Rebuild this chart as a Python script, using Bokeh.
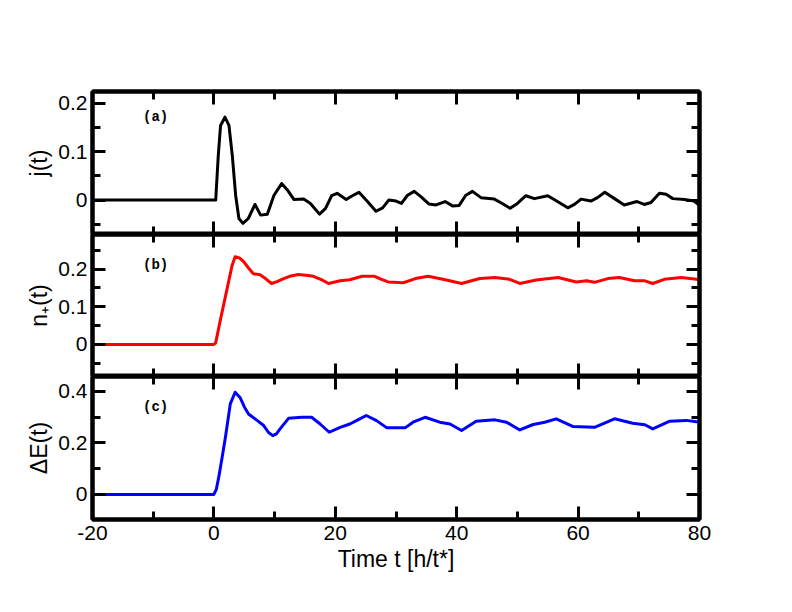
from bokeh.plotting import figure
from bokeh.layouts import column
from bokeh.models import (Range1d, FixedTicker, LinearAxis, CustomJSTickFormatter,
                          Label)
from bokeh.embed import file_html
from bokeh.resources import INLINE

# ---------------- data ----------------
t_j = [-20, 0, 0.3, 0.72, 1.1, 1.82, 2.48, 3.03, 3.58, 4.12, 4.78, 5.67, 6.77, 7.7, 8.8,
       9.9, 11.16, 12.1, 13.2, 14.8, 15.9, 17.4, 18.4, 19.4, 20.3, 21.8, 22.8, 23.9, 25.3,
       26.7, 27.8, 28.8, 30.0, 30.9, 31.9, 33.0, 34.1, 35.4, 36.6, 38.1, 39.3, 40.4, 41.5,
       42.6, 44.0, 46.2, 47.5, 48.8, 50.0, 51.4, 52.8, 55.0, 56.6, 58.3, 59.4, 60.5, 62.1,
       63.2, 64.4, 66.0, 67.6, 69.7, 70.9, 72.0, 73.4, 74.5, 75.6, 77.5, 79.1, 80.0]
j_vals = [0, 0, 0.0, 0.092, 0.154, 0.171, 0.154, 0.092, 0.010, -0.038, -0.048, -0.038,
          -0.009, -0.031, -0.029, 0.010, 0.034, 0.021, 0.001, 0.002, -0.007, -0.029, -0.017,
          0.009, 0.014, 0.001, 0.009, 0.016, -0.003, -0.023, -0.016, 0.0, -0.002, -0.007,
          0.010, 0.018, 0.007, -0.008, -0.010, -0.003, -0.012, -0.011, 0.010, 0.018, 0.005,
          0.002, -0.007, -0.017, -0.007, 0.009, 0.003, 0.009, -0.003, -0.016, -0.009, 0.002,
          -0.002, 0.005, 0.016, 0.003, -0.010, -0.003, -0.009, -0.005, 0.014, 0.012, 0.003,
          0.001, -0.002, -0.011]

t_n = [-18, 0, 0.3, 1.0, 2.0, 3.0, 3.5, 4.2, 4.9, 5.7, 6.5, 7.6, 8.5, 9.5, 10.4, 11.5, 12.7,
       13.9, 15.2, 16.4, 17.7, 18.9, 20.8, 22.4, 24.4, 26.5, 27.4, 28.7, 31.2, 33.2, 35.3,
       38.3, 40.8, 43.8, 46.3, 48.7, 50.4, 53.1, 56.7, 59.7, 61.4, 62.7, 64.9, 66.8, 69.3,
       71.0, 72.3, 74.2, 77.0, 79.5, 80.0]
n_vals = [0, 0, 0.005, 0.06, 0.135, 0.21, 0.233, 0.23, 0.22, 0.203, 0.188, 0.185, 0.175,
          0.162, 0.167, 0.175, 0.182, 0.186, 0.184, 0.181, 0.172, 0.162, 0.169, 0.172, 0.181,
          0.181, 0.174, 0.166, 0.164, 0.175, 0.181, 0.171, 0.162, 0.175, 0.178, 0.173, 0.162,
          0.171, 0.178, 0.166, 0.169, 0.165, 0.175, 0.178, 0.169, 0.169, 0.162, 0.173, 0.178,
          0.173, 0.172]

t_e = [-18, 0, 0.4, 0.8, 1.4, 1.9, 2.7, 3.5, 4.3, 5.0, 5.7, 7.0, 8.2, 9.0, 9.7, 10.3, 10.9,
       12.3, 14.5, 16.1, 17.5, 19.0, 20.8, 22.4, 23.8, 25.1, 26.8, 28.5, 31.5, 32.8, 34.8,
       37.2, 38.9, 40.8, 43.2, 46.3, 48.2, 50.4, 52.6, 54.5, 56.4, 59.2, 62.7, 66.0, 69.0,
       71.0, 72.3, 75.1, 77.8, 79.5, 80.0]
e_vals = [0, 0, 0.02, 0.067, 0.15, 0.222, 0.351, 0.396, 0.376, 0.34, 0.312, 0.289, 0.267,
          0.24, 0.228, 0.235, 0.254, 0.295, 0.299, 0.299, 0.273, 0.241, 0.260, 0.273, 0.29,
          0.306, 0.286, 0.258, 0.258, 0.280, 0.299, 0.280, 0.273, 0.248, 0.284, 0.289, 0.280,
          0.250, 0.271, 0.280, 0.293, 0.263, 0.26, 0.293, 0.276, 0.270, 0.254, 0.284, 0.287,
          0.282, 0.281]

x_major = [-20, 0, 20, 40, 60, 80]
x_minor = [-10, 10, 30, 50, 70]

panels = [
    dict(t=t_j, y=j_vals, color="black", label="j(t)", tag="(a)",
         yr=(-0.071, 0.224), major=[0, 0.1, 0.2], minor=[-0.05, 0.05, 0.15],
         tag_pos=(-9.6, 0.171)),
    dict(t=t_n, y=n_vals, color="#ff0000", label="n\u208a(t)", tag="(b)",
         yr=(-0.085, 0.292), major=[0, 0.1, 0.2], minor=[-0.05, 0.05, 0.15, 0.25],
         tag_pos=(-9.6, 0.212)),
    dict(t=t_e, y=e_vals, color="#0000ff", label="\u0394E(t)", tag="(c)",
         yr=(-0.097, 0.457), major=[0, 0.2, 0.4], minor=[0.1, 0.3],
         tag_pos=(-9.6, 0.34)),
]

FONT = "Liberation Sans"
LW = 4
fmt_y = CustomJSTickFormatter(code="return tick == 0 ? '0' : tick.toFixed(1);")
fmt_x = CustomJSTickFormatter(code="return String(Math.round(tick));")
blank = CustomJSTickFormatter(code="return '';")

x_range = Range1d(-20, 80)
heights = [234, 142, 214]
tops = [91, 0, 0]
bottoms = [0, 0, 71]

figs = []
for i, pd_ in enumerate(panels):
    p = figure(width=776, height=heights[i], x_range=x_range,
               y_range=Range1d(*pd_["yr"]), output_backend="svg",
               toolbar_location=None, x_axis_location=None, y_axis_location=None,
               min_border_left=92, min_border_right=77,
               min_border_top=tops[i], min_border_bottom=bottoms[i])
    p.grid.visible = False
    p.outline_line_color = "black"
    p.outline_line_width = LW
    p.background_fill_color = "white"
    p.border_fill_color = "white"

    def style(ax, ticks, minors, show, fmt=None):
        ax.ticker = FixedTicker(ticks=ticks, minor_ticks=minors)
        ax.axis_line_width = LW
        ax.axis_line_color = "black"
        ax.major_tick_in = 13
        ax.major_tick_out = 0
        ax.minor_tick_in = 8
        ax.minor_tick_out = 0
        ax.major_tick_line_width = 3
        ax.minor_tick_line_width = 3
        ax.major_tick_line_color = "black"
        ax.minor_tick_line_color = "black"
        if show:
            ax.formatter = fmt
            ax.major_label_text_font = FONT
            ax.major_label_text_font_size = "21px"
            ax.major_label_text_color = "black"
            ax.axis_label_text_font = FONT
            ax.axis_label_text_font_size = "23px"
            ax.axis_label_text_font_style = "normal"
            ax.axis_label_text_color = "black"
        else:
            ax.formatter = blank
            ax.major_label_text_font_size = "0px"
            ax.major_label_standoff = 0
            ax.axis_label = None

    ax_l = LinearAxis(axis_label=pd_["label"])
    style(ax_l, pd_["major"], pd_["minor"], True, fmt_y)
    ax_l.major_label_standoff = 5
    ax_l.axis_label_standoff = 3
    p.add_layout(ax_l, "left")

    ax_r = LinearAxis()
    style(ax_r, pd_["major"], pd_["minor"], False)
    p.add_layout(ax_r, "right")

    ax_t = LinearAxis()
    style(ax_t, x_major, x_minor, False)
    p.add_layout(ax_t, "above")

    if i == 2:
        ax_b = LinearAxis(axis_label="Time t [h/t*]")
        style(ax_b, x_major, x_minor, True, fmt_x)
        ax_b.major_label_standoff = 6
        ax_b.axis_label_standoff = 3
    else:
        ax_b = LinearAxis()
        style(ax_b, x_major, x_minor, False)
    p.add_layout(ax_b, "below")

    p.line(pd_["t"], pd_["y"], line_color=pd_["color"], line_width=3, line_join="round")

    p.add_layout(Label(x=pd_["tag_pos"][0], y=pd_["tag_pos"][1], text=pd_["tag"],
                       text_font="Liberation Mono", text_font_style="bold",
                       text_font_size="14px", text_align="center",
                       text_baseline="middle", text_color="black"))
    figs.append(p)

layout = column(*figs, spacing=0)
open("out.html", "w").write(file_html(layout, INLINE))
